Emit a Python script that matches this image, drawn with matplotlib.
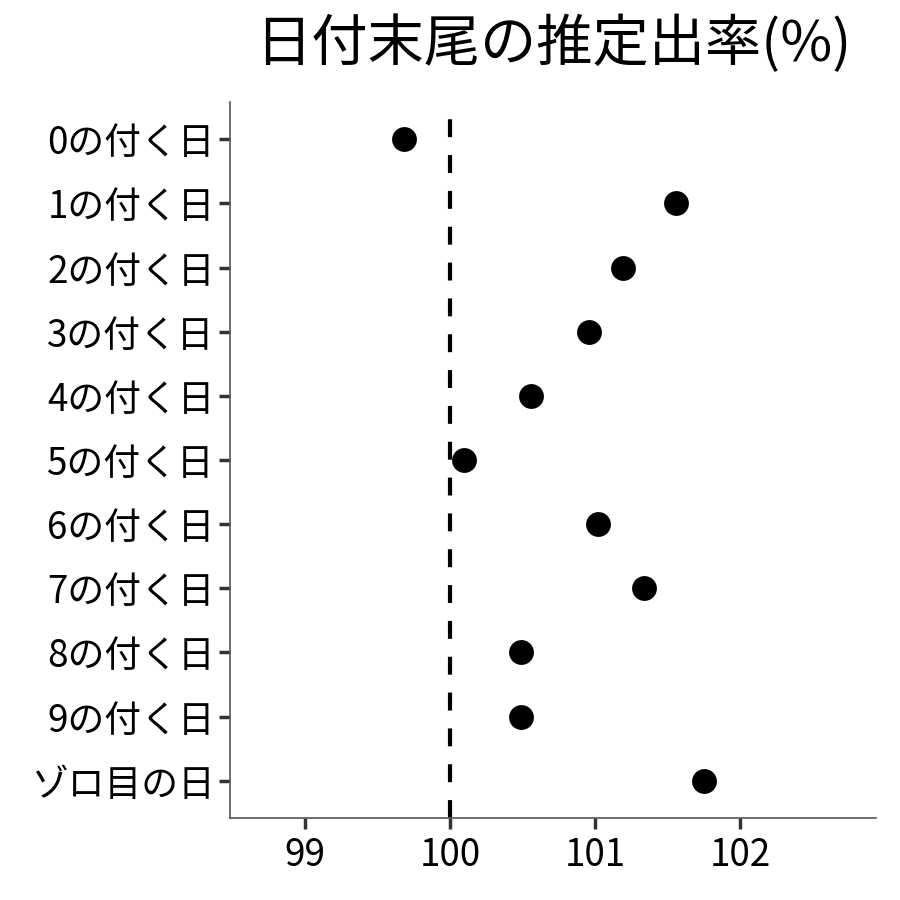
import matplotlib
matplotlib.use("Agg")
import matplotlib.pyplot as plt

plt.rcParams['font.family'] = ['Noto Sans CJK JP', 'DejaVu Sans']

title = "日付末尾の推定出率(%)"
categories = ["0の付く日", "1の付く日", "2の付く日", "3の付く日", "4の付く日",
              "5の付く日", "6の付く日", "7の付く日", "8の付く日", "9の付く日", "ゾロ目の日"]
values = [99.68, 101.56, 101.19, 100.96, 100.56, 100.10, 101.02, 101.34, 100.49, 100.49, 101.75]
xticks = [99, 100, 101, 102]
ref_value = 100

fig = plt.figure(figsize=(9, 9), dpi=100)
ax = fig.add_axes([230/900, 1-818/900, (876-230)/900, (818-102)/900])

ypos = list(range(len(categories)))
ax.scatter(values, ypos, s=320, color='black', zorder=3, linewidths=0)
ax.axvline(ref_value, color='black', linestyle=(0, (4.3, 4.3)), linewidth=3, zorder=2)

ax.set_ylim(len(categories) - 1 + 0.58, -0.58)
ax.set_xlim(98.483, 102.938)
ax.set_yticks(ypos)
ax.set_yticklabels(categories)
ax.set_xticks(xticks)
ax.set_xticklabels([str(t) for t in xticks])

for s in ['top', 'right']:
    ax.spines[s].set_visible(False)
for s in ['left', 'bottom']:
    ax.spines[s].set_color('#555555')
    ax.spines[s].set_linewidth(1.2)
ax.tick_params(axis='both', colors='#333333', width=2.5, length=8, labelsize=26.5,
               labelcolor='black')
ax.tick_params(axis='x', pad=5)
ax.tick_params(axis='y', pad=3)

fig.text((230+876)/2/900, 1-45/900, title, ha='center', va='center', fontsize=40.5)

fig.savefig("out.png", dpi=100)
